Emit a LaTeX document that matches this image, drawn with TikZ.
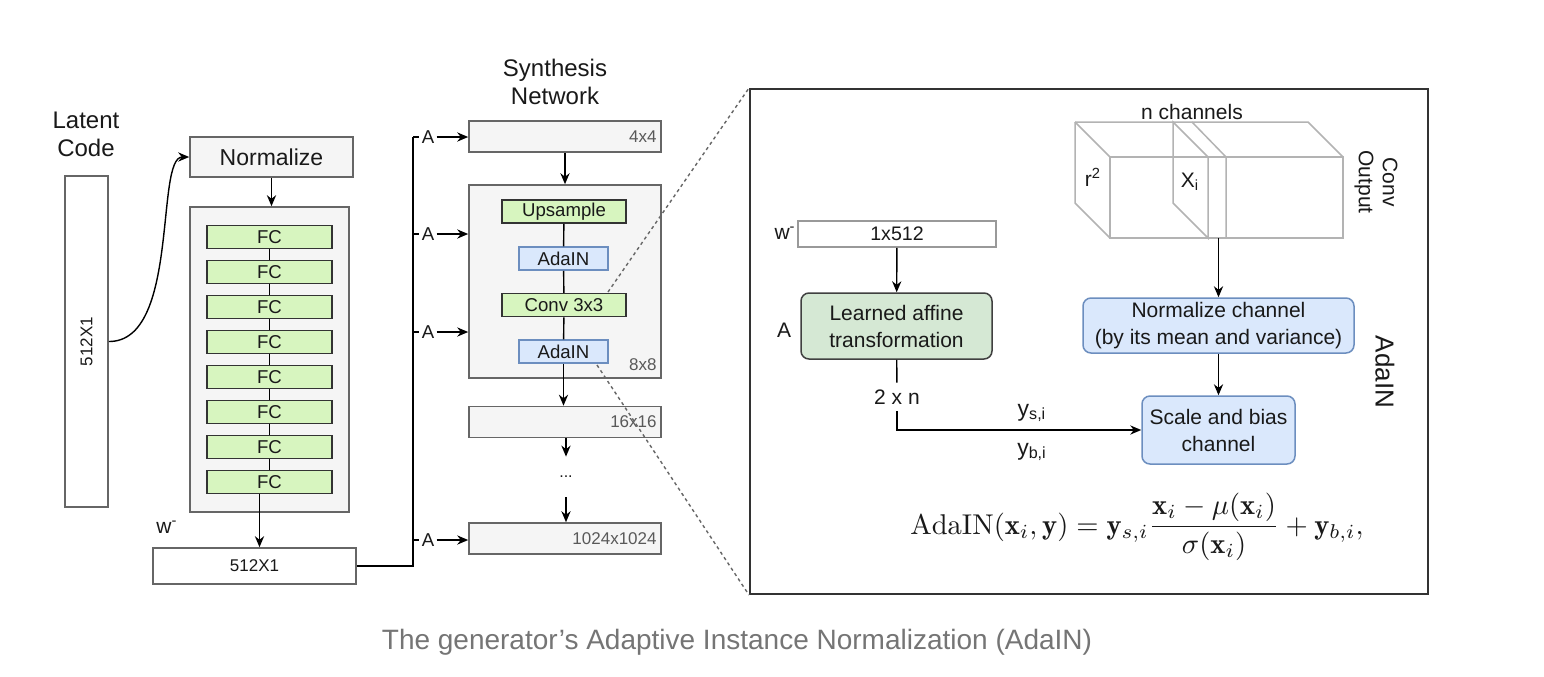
\documentclass[tikz,border=0pt]{standalone}
\usepackage{fontspec}
\usepackage{amsmath}
\usetikzlibrary{arrows.meta,positioning}
\newfontfamily\hv{Liberation Sans}
\newcommand{\fsz}[2]{\fontsize{#1}{#2}\selectfont}
\definecolor{boxgray}{HTML}{F5F5F5}
\definecolor{linegray}{HTML}{666666}
\definecolor{fcgreen}{HTML}{D7F5BF}
\definecolor{adablue}{HTML}{DAE8FC}
\definecolor{adaline}{HTML}{6C8EBF}
\definecolor{affgreen}{HTML}{D5E8D4}
\definecolor{cubegray}{HTML}{B3B3B3}
\definecolor{capgray}{HTML}{757575}
\tikzset{
  every node/.style={inner sep=0pt, text=black!90},
  arr/.style={-{Stealth[length=5.5pt,width=4.6pt]}, line width=0.7pt},
  conn/.style={line width=0.7pt},
  graybox/.style={draw=linegray, fill=boxgray, line width=0.8pt},
  vecbox/.style={draw=linegray, fill=white, line width=0.8pt, font=\hv\fsz{8.5}{10}},
  fcblock/.style={draw=black!80, fill=fcgreen, line width=0.75pt, minimum height=11.5pt, font=\hv\fsz{9.3}{10}},
  adablock/.style={draw=adaline, fill=adablue, line width=0.75pt, minimum width=44.5pt, minimum height=11.5pt, font=\hv\fsz{9.3}{10}},
  resbox/.style={graybox, minimum width=96pt, minimum height=15.5pt},
  reslabel/.style={font=\hv\fsz{8.5}{10}, text=black!65, anchor=east},
  alabel/.style={font=\hv\fsz{9.3}{10}, inner xsep=1pt},
  headlabel/.style={font=\hv\fsz{12}{14}, align=center},
  rnd/.style={rounded corners=4pt, line width=0.75pt, align=center, font=\hv\fsz{10.5}{13.5}},
  txt/.style={font=\hv\fsz{10.5}{12}},
  zoomline/.style={draw=linegray, line width=0.7pt, dash pattern=on 1.6pt off 1.6pt},
  cube/.style={draw=cubegray, line width=0.75pt},
}
\begin{document}
\begin{tikzpicture}[x=0.5pt,y=-0.5pt]
  \fill[white] (0,0) rectangle (1544,676);
  \useasboundingbox (0,0) rectangle (1544,676);

  % mapping network
  \node[headlabel] (latentlbl) at (86,134) {Latent\\Code};
  \node[vecbox, minimum width=21.5pt, minimum height=165.5pt] (latent) at (86.5,341.5) {};
  \node[font=\hv\fsz{8.5}{10}, rotate=90] (latenttxt) at (86.5,341.5) {512X1};
  \node[graybox, minimum width=81.5pt, minimum height=20pt, font=\hv\fsz{11.5}{13}] (normalize) at (271.5,157) {Normalize};
  \draw[arr] (latent.east) .. controls (180,342) and (155,157) .. (normalize.west);
  \node[graybox, minimum width=79.5pt, minimum height=152.5pt] (fcstack) at (269.5,359.5) {};
  \draw[arr] (normalize.south) -- (normalize.south |- fcstack.north);
  \foreach \i in {1,...,8}
    \node[fcblock, minimum width=62.5pt] (fc\i) at (269.5,{237+35*(\i-1)}) {FC};
  \foreach \i in {1,...,7} {
    \pgfmathtruncatemacro\j{\i+1}
    \draw[conn] (fc\i) -- (fc\j);
  }
  \node[vecbox, minimum width=101.5pt, minimum height=18pt] (wbox) at (254.5,566) {512X1};
  \node[font=\hv\fsz{10.5}{12}] (wlbl) at (167,527) {w\textsuperscript{-}};
  \draw[arr] ([xshift=-5pt]fc8.south) -- ([xshift=-5pt]fc8.south |- wbox.north);

  % synthesis network
  \node[headlabel] (synlbl) at (555,82) {Synthesis\\Network};
  \node[resbox] (s4) at (565,136.5) {};
  \node[reslabel] (s4txt) at (657,136.5) {4x4};
  \node[graybox, minimum width=96pt, minimum height=96.5pt] (block8) at (565,281.5) {};
  \node[reslabel] (s8txt) at (657,365) {8x8};
  \node[fcblock, minimum width=62pt] (upsample) at (564,211.5) {Upsample};
  \node[adablock] (adain1) at (563.5,258.5) {AdaIN};
  \node[fcblock, minimum width=62pt] (conv) at (564,305) {Conv 3x3};
  \node[adablock] (adain2) at (563.5,351.5) {AdaIN};
  \draw[conn] (upsample) -- (adain1);
  \draw[conn] (adain1) -- (conv);
  \draw[conn] (conv) -- (adain2);
  \draw[arr] (s4.south) -- (s4.south |- block8.north);
  \node[resbox] (s16) at (565,422) {};
  \node[reslabel] (s16txt) at (657,422) {16x16};
  \draw[arr] (adain2.south) -- (adain2.south |- s16.north);
  \node[font=\hv\fsz{8}{9}, minimum height=20pt] (dots) at (566,477) {...};
  \node[resbox] (s1024) at (565,538.5) {};
  \node[reslabel] (s1024txt) at (657,538.5) {1024x1024};
  \draw[arr] (s16.south -| dots) -- (dots);
  \draw[arr] (dots) -- (dots |- s1024.north);

  % style inputs
  \coordinate (bustop) at (413,137);
  \coordinate (busbot) at (413,566);
  \draw[conn] (wbox.east) -- (busbot) -- (bustop);
  \foreach \y/\n in {137/1,234/2,332/3,540/4} {
    \node[alabel] (a\n) at (428,\y) {A};
    \draw[conn] (bustop |- a\n) -- (a\n.west);
    \draw[arr] (a\n.east) -- (a\n.east -| s4.west);
  }

  % AdaIN detail
  \node[draw=black!80, line width=1pt, minimum width=339pt, minimum height=252.5pt] (frame) at (1089,341.5) {};
  \coordinate (zoomtop) at (608,292);
  \coordinate (zoombot) at (597,365);
  \draw[zoomline] (zoomtop) -- (frame.north west);
  \draw[zoomline] (zoombot) -- (frame.south west);

  \node[draw=black!40, fill=white, line width=0.75pt, minimum width=99pt, minimum height=13pt, font=\hv\fsz{9.8}{11}] (wvec) at (897,234) {1x512};
  \node[font=\hv\fsz{10.5}{12}, anchor=east] (wvlbl) at (796,233) {w\textsuperscript{-}};
  \node[rnd, draw=black!75, fill=affgreen, minimum width=95.5pt, minimum height=33pt] (affine) at (896.5,326) {Learned affine\\transformation};
  \node[txt] (alab) at (784,330) {A};
  \draw[arr] (wvec) -- (affine);
  \node[txt, minimum height=14pt] (twon) at (897,397) {2 x n};
  \draw[conn] (affine) -- (twon);

  % conv output cube
  \draw[cube] (1075,122) -- (1308,122) -- (1343,157);
  \draw[cube] (1075,122) -- (1110,157);
  \draw[cube] (1075,122) -- (1075,203) -- (1110,238);
  \draw[cube] (1110,157) rectangle (1343,238);
  \draw[cube] (1173,122) -- (1173,203) -- (1208,238) -- (1208,157) -- cycle;
  \draw[cube] (1192,122) -- (1226,157) -- (1226,238);
  \node[txt] (nch) at (1192,112) {n channels};
  \node[txt] (rsq) at (1093,177) {r\textsuperscript{2}};
  \node[txt] (xi) at (1190,182) {X\textsubscript{i}};
  \node[txt, rotate=-90, align=center] (convout) at (1376,182) {Conv\\Output};

  \node[rnd, draw=adaline, fill=adablue, minimum width=135.5pt, minimum height=27.5pt] (normch) at (1218.5,325.5) {Normalize channel\\(by its mean and variance)};
  \node[rnd, draw=adaline, fill=adablue, minimum width=76.5pt, minimum height=34pt] (scale) at (1218.5,430) {Scale and bias\\channel};
  \coordinate (cubebot) at (1218.5,238);
  \draw[arr] (cubebot) -- (normch);
  \draw[arr] (normch) -- (scale);
  \draw[arr] (twon) |- (scale);
  \node[font=\hv\fsz{11.5}{13}] (ys) at (1032,413) {y\textsubscript{s,i}};
  \node[font=\hv\fsz{11.5}{13}] (yb) at (1032,452) {y\textsubscript{b,i}};
  \node[font=\hv\fsz{13}{15}, rotate=-90] (adalbl) at (1385,372) {AdaIN};

  \node (formula) at (1137,527) {\scalebox{1.43}{$\displaystyle \mathrm{AdaIN}(\mathbf{x}_i,\mathbf{y}) = \mathbf{y}_{s,i}\frac{\mathbf{x}_i-\mu(\mathbf{x}_i)}{\sigma(\mathbf{x}_i)} + \mathbf{y}_{b,i},$}};

  \node[font=\hv\fsz{14}{16}, text=capgray] (caption) at (737,642) {The generator’s Adaptive Instance Normalization (AdaIN)};
\end{tikzpicture}
\end{document}
